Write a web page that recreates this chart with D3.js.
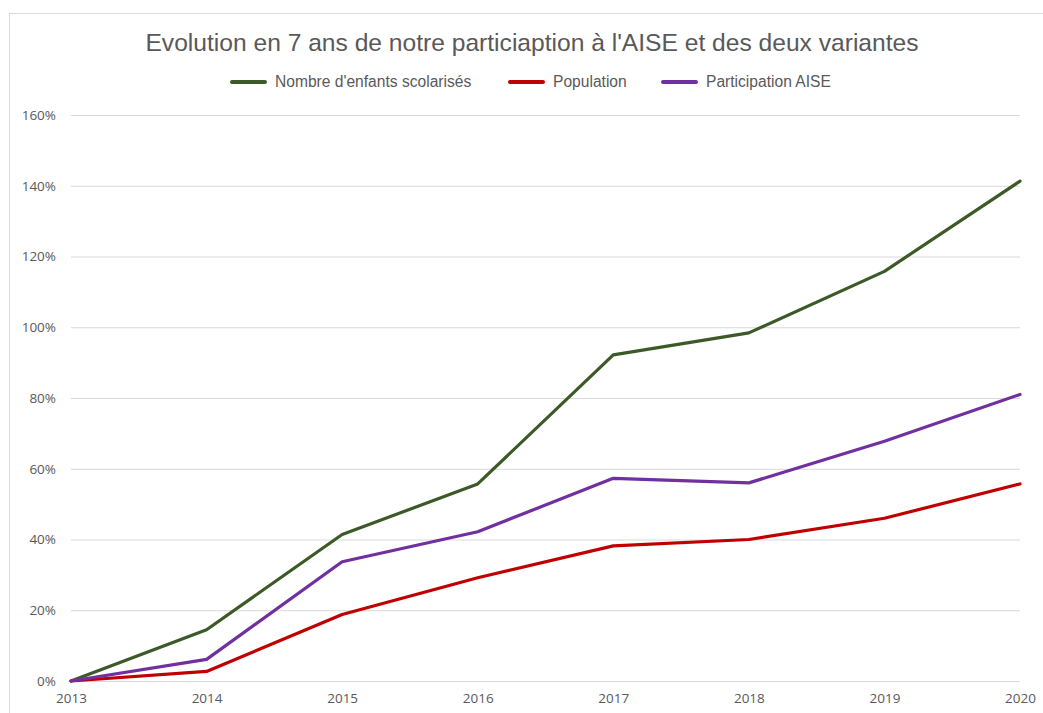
<!DOCTYPE html>
<html>
<head>
<meta charset="utf-8">
<script src="https://cdn.jsdelivr.net/npm/d3@7"></script>
<style>
  body { margin: 0; background: #fff; }
  svg { display: block; }
</style>
</head>
<body>
<div id="chart"></div>
<script>
var years = [2013, 2014, 2015, 2016, 2017, 2018, 2019, 2020];
var enfants = [0, 14.5, 41.4, 55.7, 92.2, 98.4, 115.8, 141.3];
var population = [0, 2.7, 18.8, 29.2, 38.2, 40.0, 46.0, 55.7];
var participation = [0, 6.1, 33.7, 42.2, 57.3, 56.0, 67.8, 81.0];
var yTicks = [0, 20, 40, 60, 80, 100, 120, 140, 160];

var series = [
  {name: "Nombre d'enfants scolarisés", values: enfants, color: "#3b5a27"},
  {name: "Population", values: population, color: "#c00000"},
  {name: "Participation AISE", values: participation, color: "#7030a0"}
];

var svg = d3.select("#chart").append("svg").attr("width", 1043).attr("height", 713),
  margin = {top: 115, right: 23, bottom: 32, left: 71},
  width = +svg.attr("width") - margin.left - margin.right,
  height = +svg.attr("height") - margin.top - margin.bottom;

// chart frame
svg.append("rect")
  .attr("x", 9.5).attr("y", 13.5)
  .attr("width", 1100).attr("height", 800)
  .attr("fill", "none").attr("stroke", "#d9d9d9");

var g = svg.append("g").attr("transform", "translate(" + margin.left + "," + margin.top + ")");

var x = d3.scaleLinear().domain([2013, 2020]).range([0, width]);
var y = d3.scaleLinear().domain([0, 160]).range([height, 0]);

// gridlines
g.append("g")
  .attr("class", "grid")
  .call(d3.axisLeft(y).tickValues(yTicks).tickSize(-width).tickFormat(""))
  .call(function (s) {
    s.select(".domain").remove();
    s.selectAll("line").attr("stroke", "#d9d9d9").attr("stroke-width", 1);
  });

// y labels
g.append("g")
  .call(d3.axisLeft(y).tickValues(yTicks).tickSize(0).tickPadding(15).tickFormat(function (d) { return d + "%"; }))
  .call(function (s) {
    s.select(".domain").remove();
    s.selectAll("text").attr("fill", "#595959").style("font", "13.5px 'Open Sans', sans-serif");
  });

// x labels
g.append("g")
  .attr("transform", "translate(0," + height + ")")
  .call(d3.axisBottom(x).tickValues(years).tickSize(0).tickPadding(12).tickFormat(d3.format("d")))
  .call(function (s) {
    s.select(".domain").remove();
    s.selectAll("text").attr("fill", "#595959").style("font", "13.5px 'Open Sans', sans-serif");
  });

var line = d3.line()
  .x(function (d, i) { return x(years[i]); })
  .y(function (d) { return y(d); });

g.selectAll(".serie")
  .data(series)
  .enter().append("path")
  .attr("class", "serie")
  .attr("d", function (d) { return line(d.values); })
  .attr("fill", "none")
  .attr("stroke", function (d) { return d.color; })
  .attr("stroke-width", 3.2)
  .attr("stroke-linejoin", "round")
  .attr("stroke-linecap", "round");

// title
svg.append("text")
  .attr("x", 532).attr("y", 51)
  .attr("text-anchor", "middle")
  .attr("fill", "#595959")
  .style("font", "24.6px 'Liberation Sans', Arial, sans-serif")
  .text("Evolution en 7 ans de notre particiaption à l'AISE et des deux variantes");

// legend
var legendX = [232, 510, 663];
var legend = svg.selectAll(".legend")
  .data(series)
  .enter().append("g")
  .attr("class", "legend")
  .attr("transform", function (d, i) { return "translate(" + legendX[i] + ",82)"; });

legend.append("line")
  .attr("x1", 0).attr("x2", 33)
  .attr("stroke", function (d) { return d.color; })
  .attr("stroke-width", 4)
  .attr("stroke-linecap", "round");

legend.append("text")
  .attr("x", 43).attr("dy", "0.35em")
  .attr("fill", "#595959")
  .style("font", "15.6px 'Liberation Sans', Arial, sans-serif")
  .text(function (d) { return d.name; });
</script>
</body>
</html>
